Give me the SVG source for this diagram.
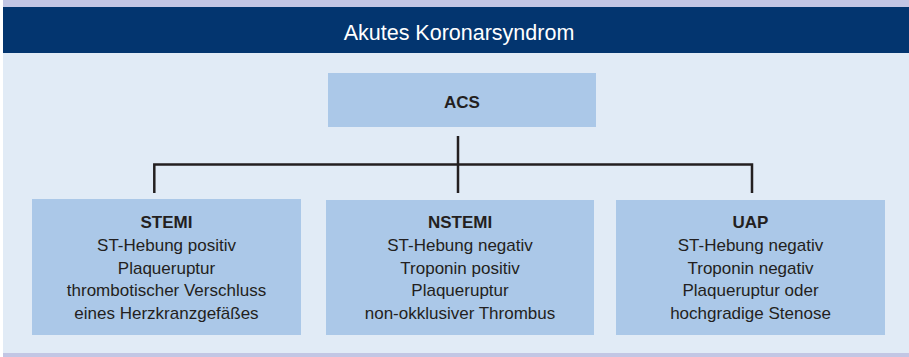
<svg xmlns="http://www.w3.org/2000/svg" width="909" height="357" viewBox="0 0 909 357">
<style>
.box{fill:#abc8e8;}
.t{font-family:"Liberation Sans",Arial,sans-serif;font-size:17px;fill:#231f20;text-anchor:middle;}
.b{font-weight:bold;}
.ln{stroke:#231f20;stroke-width:2.5;fill:none;}
</style>
<rect x="0" y="0" width="909" height="357" fill="#ffffff"/>
<rect x="3" y="0" width="906" height="7" fill="#c2c6e4"/>
<rect x="3" y="7" width="906" height="46" fill="#03356f"/>
<rect x="3" y="53" width="906" height="300" fill="#e1ebf6"/>
<rect x="3" y="353" width="906" height="4" fill="#c2c6e4"/>
<text x="459" y="39.5" font-family="Liberation Sans,Arial,sans-serif" font-size="21.5" fill="#ffffff" text-anchor="middle">Akutes Koronarsyndrom</text>
<g id="connectors">
<path class="ln" d="M458 136 V193"/>
<path class="ln" d="M154.3 193 V164.5 H752 V193"/>
</g>
<g id="acs">
<rect class="box" x="328" y="73" width="268" height="54"/>
<text class="t b" x="462" y="108">ACS</text>
</g>
<g id="stemi">
<rect class="box" x="32" y="199" width="269" height="136"/>
<text class="t b" x="166.5" y="228">STEMI</text>
<text class="t" x="166.5" y="251">ST-Hebung positiv</text>
<text class="t" x="166.5" y="273.5">Plaqueruptur</text>
<text class="t" x="166.5" y="296">thrombotischer Verschluss</text>
<text class="t" x="166.5" y="319">eines Herzkranzgefäßes</text>
</g>
<g id="nstemi">
<rect class="box" x="326" y="200" width="268" height="135"/>
<text class="t b" x="460" y="228">NSTEMI</text>
<text class="t" x="460" y="251">ST-Hebung negativ</text>
<text class="t" x="460" y="273.5">Troponin positiv</text>
<text class="t" x="460" y="296">Plaqueruptur</text>
<text class="t" x="460" y="319">non-okklusiver Thrombus</text>
</g>
<g id="uap">
<rect class="box" x="616" y="200" width="269" height="135"/>
<text class="t b" x="750.5" y="228">UAP</text>
<text class="t" x="750.5" y="251">ST-Hebung negativ</text>
<text class="t" x="750.5" y="273.5">Troponin negativ</text>
<text class="t" x="750.5" y="296">Plaqueruptur oder</text>
<text class="t" x="750.5" y="319">hochgradige Stenose</text>
</g>
</svg>
